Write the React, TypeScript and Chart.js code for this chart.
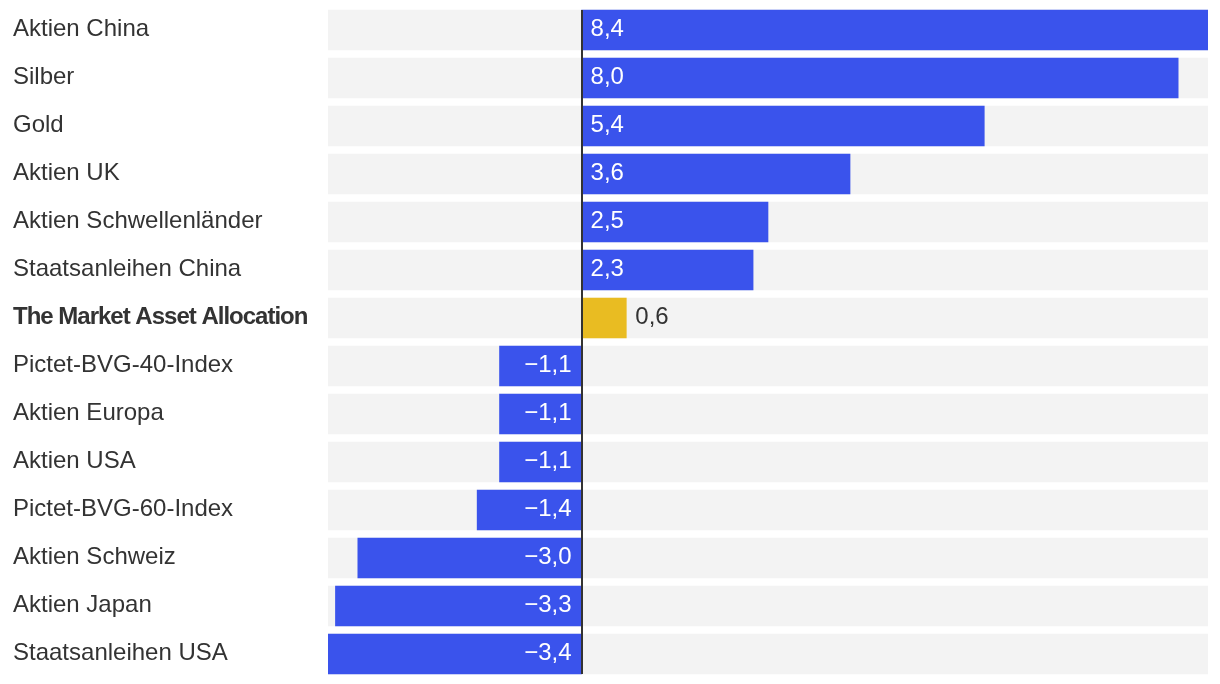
import React, { useEffect, useRef } from "react";
import { Chart, registerables } from "chart.js";

Chart.register(...registerables);

const categories: string[] = [
  "Aktien China",
  "Silber",
  "Gold",
  "Aktien UK",
  "Aktien Schwellenländer",
  "Staatsanleihen China",
  "The Market Asset Allocation",
  "Pictet-BVG-40-Index",
  "Aktien Europa",
  "Aktien USA",
  "Pictet-BVG-60-Index",
  "Aktien Schweiz",
  "Aktien Japan",
  "Staatsanleihen USA",
];

const values: number[] = [8.4, 8.0, 5.4, 3.6, 2.5, 2.3, 0.6, -1.1, -1.1, -1.1, -1.4, -3.0, -3.3, -3.4];

const highlightIndex = 6;

const X_MIN = -3.4;
const X_MAX = 8.4;

const BLUE = "#3a53ec";
const GOLD = "#e9bc22";
const GREY = "#f3f3f3";
const TEXT = "#333333";
const FONT_FAMILY = "'Liberation Sans', Arial, Helvetica, sans-serif";

const fmt = (v: number) => v.toFixed(1).replace(".", ",").replace("-", "\u2212");

const labelsPlugin = {
  id: "customLabels",
  afterDatasetsDraw(chart: any) {
    const ctx: CanvasRenderingContext2D = chart.ctx;
    const xs = chart.scales.x;
    const ys = chart.scales.y;
    const labels: string[] = chart.data.labels;
    const vals: number[] = chart.data.datasets[0].data;
    const x0 = xs.getPixelForValue(0);
    ctx.save();
    // zero line
    const top = ys.getPixelForValue(0) - 20;
    const bottom = ys.getPixelForValue(labels.length - 1) + 20;
    ctx.fillStyle = TEXT;
    ctx.fillRect(Math.round(x0) - 1, top, 2, bottom - top);

    ctx.textBaseline = "middle";
    labels.forEach((lab, i) => {
      const y = ys.getPixelForValue(i) - 1;
      // category labels
      if (i === highlightIndex) {
        ctx.font = `bold 24px ${FONT_FAMILY}`;
        (ctx as any).letterSpacing = "-1px";
      } else {
        ctx.font = `24px ${FONT_FAMILY}`;
        (ctx as any).letterSpacing = "0px";
      }
      ctx.fillStyle = TEXT;
      ctx.textAlign = "left";
      ctx.fillText(lab, 13, y);
      (ctx as any).letterSpacing = "0px";

      // value labels
      const v = vals[i];
      const txt = fmt(v);
      ctx.font = `24px ${FONT_FAMILY}`;
      const w = ctx.measureText(txt).width;
      const xe = xs.getPixelForValue(v);
      const barW = Math.abs(xe - x0);
      const pad = 9;
      const inside = w + 2 * pad <= barW && Math.abs(v) >= 1;
      if (inside) {
        ctx.fillStyle = "#ffffff";
        if (v >= 0) {
          ctx.textAlign = "left";
          ctx.fillText(txt, x0 + pad, y);
        } else {
          ctx.textAlign = "right";
          ctx.fillText(txt, x0 - pad - 1, y);
        }
      } else {
        ctx.fillStyle = TEXT;
        if (v >= 0) {
          ctx.textAlign = "left";
          ctx.fillText(txt, xe + pad, y);
        } else {
          ctx.textAlign = "right";
          ctx.fillText(txt, xe - pad, y);
        }
      }
    });
    ctx.restore();
  },
};

export default function App() {
  const canvasRef = useRef<HTMLCanvasElement | null>(null);

  useEffect(() => {
    if (!canvasRef.current) return;
    const chart = new Chart(canvasRef.current, {
      type: "bar",
      data: {
        labels: categories,
        datasets: [
          {
            data: values,
            backgroundColor: values.map((_, i) => (i === highlightIndex ? GOLD : BLUE)),
            grouped: false,
            barThickness: 40,
            borderWidth: 0,
            order: 0,
          } as any,
          {
            data: categories.map(() => [X_MIN, X_MAX]),
            backgroundColor: GREY,
            grouped: false,
            barThickness: 40,
            borderWidth: 0,
            order: 1,
          } as any,
        ],
      },
      options: {
        indexAxis: "y",
        responsive: false,
        animation: false,
        devicePixelRatio: 1,
        layout: { padding: { left: 328, right: 12, top: 6, bottom: 6 } },
        plugins: {
          legend: { display: false },
          tooltip: { enabled: false },
        },
        scales: {
          x: { min: X_MIN, max: X_MAX, display: false },
          y: { display: false },
        },
      },
      plugins: [labelsPlugin],
    });
    return () => chart.destroy();
  }, []);

  return (
    <div style={{ position: "fixed", left: 0, top: 0, width: 1220, height: 684, background: "#fff" }}>
      <canvas ref={canvasRef} width={1220} height={684} />
    </div>
  );
}
